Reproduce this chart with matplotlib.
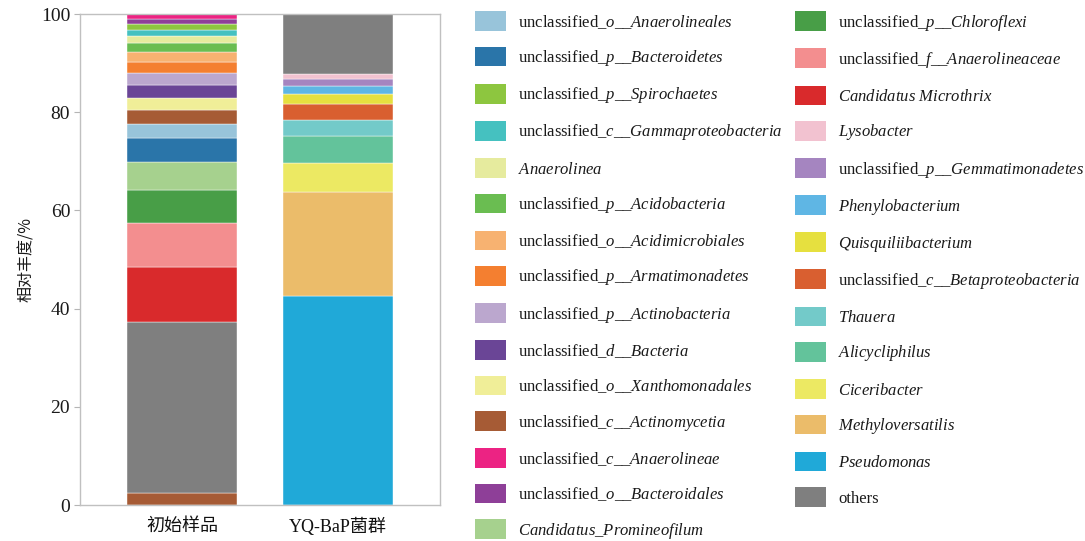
import matplotlib
matplotlib.use("Agg")
import matplotlib.pyplot as plt
from matplotlib.patches import Patch

plt.rcParams['font.family'] = ['Liberation Serif', 'Noto Sans CJK SC']
plt.rcParams['mathtext.fontset'] = 'custom'
plt.rcParams['mathtext.rm'] = 'Liberation Serif'
plt.rcParams['mathtext.it'] = 'Liberation Serif:italic'

samples = ['初始样品', 'YQ-BaP菌群']

# legend entries, in legend order
taxa = [
    'unclassified_o__Anaerolineales', 'unclassified_p__Bacteroidetes',
    'unclassified_p__Spirochaetes', 'unclassified_c__Gammaproteobacteria',
    'Anaerolinea', 'unclassified_p__Acidobacteria',
    'unclassified_o__Acidimicrobiales', 'unclassified_p__Armatimonadetes',
    'unclassified_p__Actinobacteria', 'unclassified_d__Bacteria',
    'unclassified_o__Xanthomonadales', 'unclassified_c__Actinomycetia',
    'unclassified_c__Anaerolineae', 'unclassified_o__Bacteroidales',
    'Candidatus_Promineofilum', 'unclassified_p__Chloroflexi',
    'unclassified_f__Anaerolineaceae', 'Candidatus Microthrix',
    'Lysobacter', 'unclassified_p__Gemmatimonadetes', 'Phenylobacterium',
    'Quisquiliibacterium', 'unclassified_c__Betaproteobacteria', 'Thauera',
    'Alicycliphilus', 'Ciceribacter', 'Methyloversatilis', 'Pseudomonas',
    'others',
]
taxa_colors = [
    '#98c4da', '#2a75a9', '#8dc63f', '#45c1c0', '#e6eb9e', '#6abd51',
    '#f7b271', '#f47f30', '#bba7ce', '#6a4596', '#f0ee98', '#a65b35',
    '#ec2383', '#8e3f98', '#a6d18e', '#489e47', '#f38e8f', '#d92a2c',
    '#f2c2d0', '#a585c0', '#5fb6e4', '#e6e03f', '#d95f30', '#73cac9',
    '#63c39b', '#ece963', '#ebbc6a', '#20a9d8', '#7f7f7f',
]

# relative abundance (%), listed from bottom of the bar to the top
raw_taxa = [
    'unclassified_c__Actinomycetia', 'others', 'Candidatus Microthrix',
    'unclassified_f__Anaerolineaceae', 'unclassified_p__Chloroflexi',
    'Candidatus_Promineofilum', 'unclassified_p__Bacteroidetes',
    'unclassified_o__Anaerolineales', 'unclassified_c__Actinomycetia',
    'unclassified_o__Xanthomonadales', 'unclassified_d__Bacteria',
    'unclassified_p__Actinobacteria', 'unclassified_p__Armatimonadetes',
    'unclassified_o__Acidimicrobiales', 'unclassified_p__Acidobacteria',
    'Anaerolinea', 'unclassified_c__Gammaproteobacteria',
    'unclassified_p__Spirochaetes', 'unclassified_o__Bacteroidales',
    'unclassified_c__Anaerolineae',
]
raw_values = [2.4, 34.9, 11.1, 9.0, 6.8, 5.7, 4.8, 2.9, 2.8, 2.6, 2.5, 2.5,
              2.3, 2.0, 1.9, 1.3, 1.2, 1.2, 1.1, 1.0]

yq_taxa = [
    'Pseudomonas', 'Methyloversatilis', 'Ciceribacter', 'Alicycliphilus',
    'Thauera', 'unclassified_c__Betaproteobacteria', 'Quisquiliibacterium',
    'Phenylobacterium', 'unclassified_p__Gemmatimonadetes', 'Lysobacter',
    'others',
]
yq_values = [42.6, 21.2, 5.8, 5.6, 3.2, 3.2, 2.2, 1.6, 1.3, 1.1, 12.2]

color_of = dict(zip(taxa, taxa_colors))


def fmt_label(name):
    # "unclassified" upright, taxon names in italics
    if name == 'others':
        return name
    if name.startswith('unclassified_'):
        rest = name[len('unclassified_'):].replace('_', r'\_')
        return r'unclassified$\_\mathit{' + rest + '}$'
    body = name.replace('_', r'\_').replace(' ', r'\ ')
    return r'$\mathit{' + body + '}$'


fig = plt.figure(figsize=(10.85, 5.41), dpi=100)
ax = fig.add_axes([0.0737, 0.0665, 0.3318, 0.9075])

width = 0.705
for i, (names, vals) in enumerate([(raw_taxa, raw_values), (yq_taxa, yq_values)]):
    bottom = 0
    for name, v in zip(names, vals):
        ax.bar(i, v, bottom=bottom, width=width, color=color_of[name],
               edgecolor='white', linewidth=0.3)
        bottom += v

ax.set_xlim(-0.654, 1.654)
ax.set_ylim(0, 100)
ax.set_yticks([0, 20, 40, 60, 80, 100])
ax.set_xticks([0, 1])
ax.set_xticklabels(samples, fontsize=13)
ax.tick_params(axis='x', length=0, pad=9, colors='#111111')
ax.tick_params(axis='y', length=4, width=0.8, color='#b5b5b5',
               labelsize=14, labelcolor='#1a1a1a', pad=3)
for s in ax.spines.values():
    s.set_color('#c0c0c0')
    s.set_linewidth(1.0)

ax.set_ylabel('相对丰度/%', fontsize=11.5, family=['Noto Sans CJK SC', 'DejaVu Sans'],
              labelpad=4, color='#1a1a1a')

handles = [Patch(facecolor=c, edgecolor='none') for c in taxa_colors]
labels = [fmt_label(t) for t in taxa]
fig.legend(handles, labels, loc='upper left', bbox_to_anchor=(0.4378, 0.979),
           ncol=2, frameon=False, fontsize=12, handlelength=1.83,
           handleheight=1.44, handletextpad=0.75, labelspacing=0.945,
           columnspacing=0.75, borderpad=0, borderaxespad=0,
           labelcolor='#1a1a1a')

fig.savefig('out.png', dpi=100)
